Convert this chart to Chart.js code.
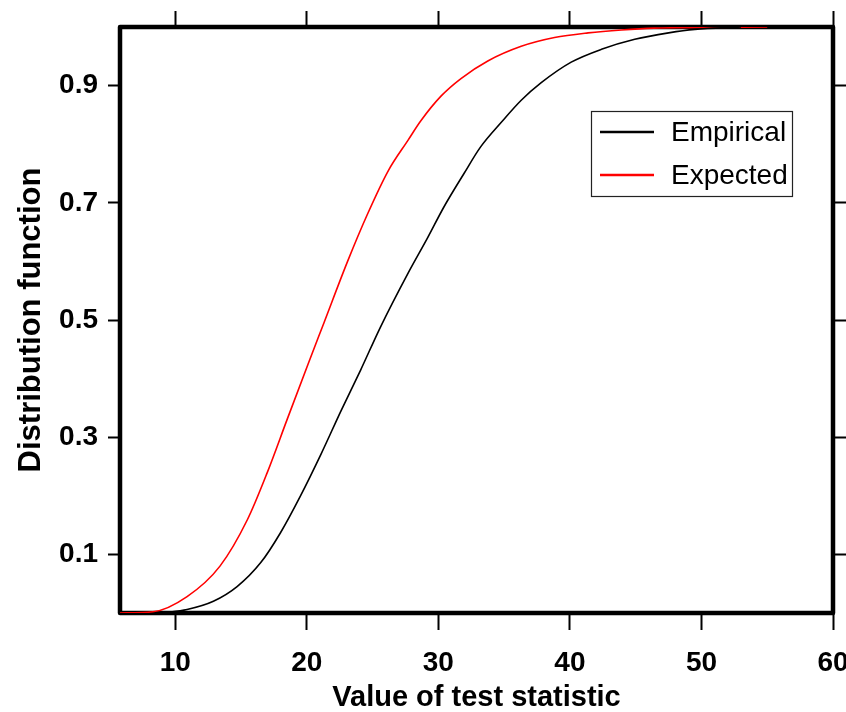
<!DOCTYPE html>
<html>
<head>
<meta charset="utf-8">
<script src="https://cdn.jsdelivr.net/npm/chart.js@4.4.1/dist/chart.umd.min.js"></script>
<style>
  html, body { margin: 0; padding: 0; background: #fff; }
  #wrap { width: 846px; height: 712px; }
</style>
</head>
<body>
<div id="wrap"><canvas id="c" width="846" height="712"></canvas></div>
<script>
// ---- data ----
const expectedX = [5.8, 8.3, 10.9, 13.4, 15.5, 17.0, 18.5, 20.1, 21.3, 23.1, 24.6, 26.2, 27.7, 28.67, 30.2, 31.72, 33.76, 36.3, 38.83, 41.38, 43.92, 46.4, 55];
const expectedY = [0, 0.002, 0.028, 0.08, 0.16, 0.24, 0.33, 0.425, 0.495, 0.60, 0.68, 0.755, 0.807, 0.84, 0.882, 0.912, 0.942, 0.967, 0.982, 0.990, 0.995, 0.998, 1.0];

const empiricalX = [9.0, 10.9, 12.9, 14.7, 16.5, 18.0, 19.5, 21.1, 22.6, 24.1, 25.6, 27.7, 29.2, 30.4, 31.95, 33.2, 34.77, 36.3, 37.82, 40.1, 42.4, 44.93, 47.5, 49.5, 53.0];
const empiricalY = [0, 0.006, 0.02, 0.045, 0.086, 0.137, 0.199, 0.272, 0.345, 0.415, 0.488, 0.58, 0.641, 0.692, 0.75, 0.795, 0.837, 0.875, 0.905, 0.94, 0.962, 0.979, 0.990, 0.996, 1.0];

const xTicks = [10, 20, 30, 40, 50, 60];
const yTicks = [0.1, 0.3, 0.5, 0.7, 0.9];
const seriesLabels = ['Empirical', 'Expected'];
const xTitle = 'Value of test statistic';
const yTitle = 'Distribution function';

const toPts = (xs, ys) => xs.map((x, i) => ({x: x, y: ys[i]}));

const FONT = "'Liberation Sans', Arial, sans-serif";

const framePlugin = {
  id: 'frame',
  beforeDatasetsDraw(chart) {
    const {ctx, chartArea: a} = chart;
    ctx.save();
    ctx.strokeStyle = '#000';
    ctx.lineWidth = 4.5;
    ctx.lineJoin = 'round';
    ctx.strokeRect(a.left, a.top, a.right - a.left, a.bottom - a.top);
    ctx.restore();
  },
  afterDraw(chart) {
    const {ctx, chartArea: a} = chart;
    const bx = a.right - 242, by = a.top + 84, bw = 201, bh = 85;
    ctx.save();
    ctx.fillStyle = '#fff';
    ctx.fillRect(bx, by, bw, bh);
    ctx.strokeStyle = '#222';
    ctx.lineWidth = 1.2;
    ctx.strokeRect(bx + 0.5, by + 0.5, bw, bh);
    ctx.font = '28px ' + FONT;
    ctx.textBaseline = 'middle';
    ctx.textAlign = 'left';
    chart.data.datasets.forEach((ds, i) => {
      const yy = by + 21 + i * 43;
      ctx.strokeStyle = ds.borderColor;
      ctx.lineWidth = 2.5;
      ctx.beginPath();
      ctx.moveTo(bx + 9, yy);
      ctx.lineTo(bx + 63, yy);
      ctx.stroke();
      ctx.fillStyle = '#000';
      ctx.fillText(ds.label, bx + 80, yy + 1);
    });
    ctx.restore();
  }
};

const setTicks = (vals) => (scale) => { scale.ticks = vals.map(v => ({value: v})); };
const noPad = (s) => { s.paddingLeft = 0; s.paddingRight = 0; s.paddingTop = 0; s.paddingBottom = 0; };

new Chart(document.getElementById('c'), {
  type: 'line',
  data: {
    datasets: [
      { label: seriesLabels[0], data: toPts(empiricalX, empiricalY), borderColor: '#000000', borderWidth: 1.6, pointRadius: 0, cubicInterpolationMode: 'monotone', fill: false },
      { label: seriesLabels[1], data: toPts(expectedX, expectedY), borderColor: '#ff0000', borderWidth: 1.6, pointRadius: 0, cubicInterpolationMode: 'monotone', fill: false }
    ]
  },
  options: {
    responsive: false,
    animation: false,
    devicePixelRatio: 1,
    layout: { padding: 0, autoPadding: false },
    plugins: { legend: { display: false }, tooltip: { enabled: false } },
    scales: {
      x: {
        type: 'linear', position: 'bottom', min: 5.8, max: 60,
        afterBuildTicks: setTicks(xTicks),
        afterFit: (s) => { s.height = 99; noPad(s); },
        grid: { drawOnChartArea: false, drawTicks: true, tickLength: 17, tickWidth: 2, tickColor: '#000' },
        border: { display: false },
        ticks: { color: '#000', font: { family: FONT, size: 28, weight: 'bold' }, padding: 16, maxRotation: 0, autoSkip: false },
        title: { display: true, text: xTitle, color: '#000', font: { family: FONT, size: 29, weight: 'bold', lineHeight: 1 }, padding: 0 }
      },
      x2: {
        type: 'linear', position: 'top', min: 5.8, max: 60,
        afterBuildTicks: setTicks(xTicks),
        afterFit: (s) => { s.height = 27; noPad(s); },
        grid: { drawOnChartArea: false, drawTicks: true, tickLength: 16, tickWidth: 2, tickColor: '#000' },
        border: { display: false },
        ticks: { display: false }
      },
      y: {
        type: 'linear', position: 'left', min: 0, max: 1,
        afterBuildTicks: setTicks(yTicks),
        afterFit: (s) => { s.width = 120; noPad(s); },
        grid: { drawOnChartArea: false, drawTicks: true, tickLength: 12, tickWidth: 2, tickColor: '#000' },
        border: { display: false },
        ticks: { color: '#000', font: { family: FONT, size: 28, weight: 'bold' }, padding: 10, callback: (v) => v.toFixed(1) },
        title: { display: true, text: yTitle, color: '#000', font: { family: FONT, size: 31, weight: 'bold', lineHeight: 1 }, padding: 16 }
      },
      y2: {
        type: 'linear', position: 'right', min: 0, max: 1,
        afterBuildTicks: setTicks(yTicks),
        afterFit: (s) => { s.width = 13; noPad(s); },
        grid: { drawOnChartArea: false, drawTicks: true, tickLength: 13, tickWidth: 2, tickColor: '#000' },
        border: { display: false },
        ticks: { display: false }
      }
    }
  },
  plugins: [framePlugin]
});
</script>
</body>
</html>
